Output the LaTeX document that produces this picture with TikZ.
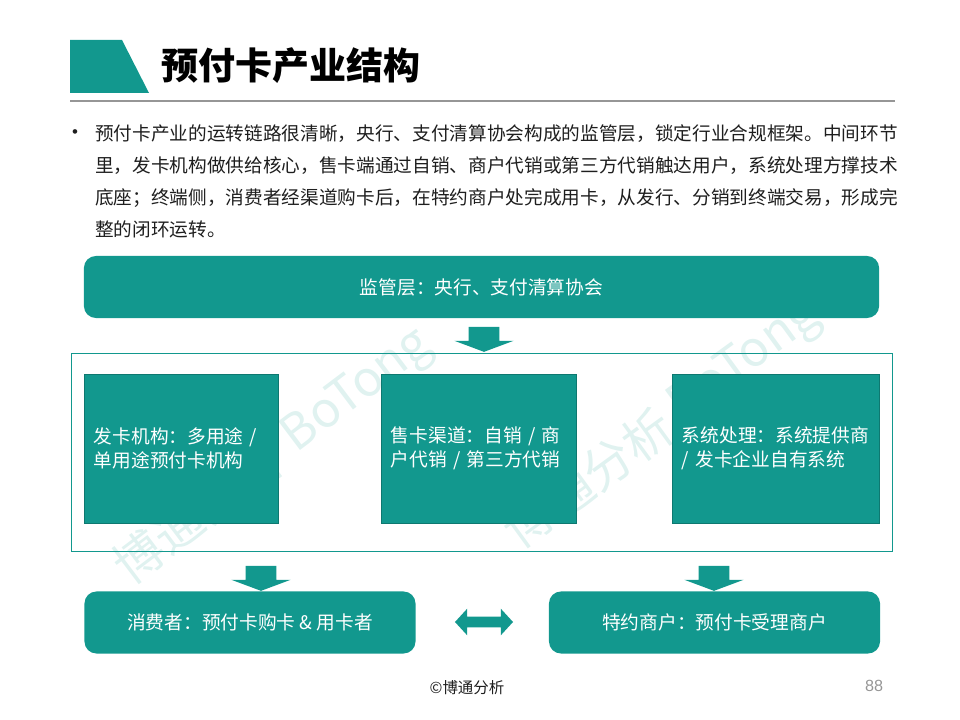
\documentclass[tikz,border=0pt]{standalone}
\usepackage{fontspec}
\setmainfont{Noto Sans CJK SC}
\newfontfamily\latinsans{Liberation Sans}
\usetikzlibrary{positioning,shapes.arrows}
\definecolor{BtTeal}{RGB}{18,152,142}
\definecolor{BtEdge}{RGB}{14,120,112}
\definecolor{BtRule}{RGB}{150,150,150}
\definecolor{BtInk}{RGB}{30,30,30}
\tikzset{panel/.style={fill=BtTeal,rounded corners=0.3cm,text=white,font=\fontsize{13.3}{16}\selectfont,inner sep=0pt,minimum height=1.55cm}, cell/.style={fill=BtTeal,draw=BtEdge,line width=0.6pt,text=white,font=\fontsize{13.3}{17}\selectfont,align=left,inner xsep=0.25cm,minimum height=3.725cm}, downarr/.style={single arrow,rotate=-90,fill=BtTeal,inner xsep=0pt,inner ysep=0.375cm,minimum height=0.625cm,minimum width=1.475cm,single arrow head extend=0.36cm,single arrow tip angle=139}, twoarr/.style={double arrow,fill=BtTeal,inner xsep=0pt,inner ysep=0.125cm,minimum height=1.45cm,minimum width=0.65cm,double arrow head extend=0.2cm,double arrow tip angle=95}, body/.style={anchor=west,inner sep=0pt,text=BtInk,font=\fontsize{13.27}{16}\selectfont}, wm/.style={inner sep=0pt,text=BtTeal!13,font=\fontsize{35}{40}\selectfont}}

\begin{document}
\begin{tikzpicture}[x=0.025cm,y=-0.025cm]
\useasboundingbox (0,0) rectangle (960,720);
\fill[BtTeal] (70,40) -- (122,40) -- (149,93) -- (70,93) -- cycle;
\node[anchor=west,inner sep=0pt,font=\bfseries\fontsize{26.3}{30}\selectfont] (title) at (161,66) {预付卡产业结构};
\draw[BtRule,line width=0.9pt] (70,101) -- (895,101);
\node[text=BtInk,font=\latinsans\fontsize{12}{14}\selectfont] (dot) at (75,134) {•};
\node[body] (lineA) at (95,134) {预付卡产业的运转链路很清晰，央行、支付清算协会构成的监管层，锁定行业合规框架。中间环节};
\node[body] (lineB) at (95,166) {里，发卡机构做供给核心，售卡端通过自销、商户代销或第三方代销触达用户，系统处理方撑技术};
\node[body] (lineC) at (95,198) {底座；终端侧，消费者经渠道购卡后，在特约商户处完成用卡，从发行、分销到终端交易，形成完};
\node[body] (lineD) at (95,229) {整的闭环运转。};
\node[wm,rotate=37] (wmA) at (198,512) {博通分析};
\node[wm,rotate=37] (wmB) at (358,392) {BoTong};
\node[wm,rotate=36] (wmC) at (588,478) {博通分析};
\node[wm,rotate=36] (wmD) at (745,362) {BoTong};
\node[panel,minimum width=19.875cm] (reg) at (481.5,287) {监管层：央行、支付清算协会};
\node[downarr] (downA) at (484,336.5) {};
\node[draw=BtTeal,line width=0.6pt,minimum width=20.5cm,minimum height=4.95cm] (frame) at (482,452) {};
\node[cell,minimum width=4.85cm,text width=4.35cm] (issuer) at (181,448.5) {发卡机构：多用途 /\\单用途预付卡机构};
\node[cell,minimum width=4.875cm,text width=4.375cm] (channel) at (478.5,448.5) {售卡渠道：自销 / 商\\户代销 / 第三方代销};
\node[cell,minimum width=5.175cm,text width=4.675cm] (system) at (775.5,448.5) {系统处理：系统提供商\\/ 发卡企业自有系统};
\node[downarr] (downB) at (261,575.5) {};
\node[downarr] (downC) at (714,575.5) {};
\node[panel,minimum width=8.275cm] (user) at (250,622.5) {消费者：预付卡购卡 \& 用卡者};
\node[panel,minimum width=8.275cm] (shop) at (714.5,622.5) {特约商户：预付卡受理商户};
\node[twoarr] (link) at (484,622) {};
\node[text=BtInk,font=\fontsize{11}{13}\selectfont] (copy) at (467,688) {©博通分析};
\node[text=BtRule,font=\latinsans\fontsize{11.5}{13}\selectfont] (pageno) at (874,686) {88};
\end{tikzpicture}
\end{document}
